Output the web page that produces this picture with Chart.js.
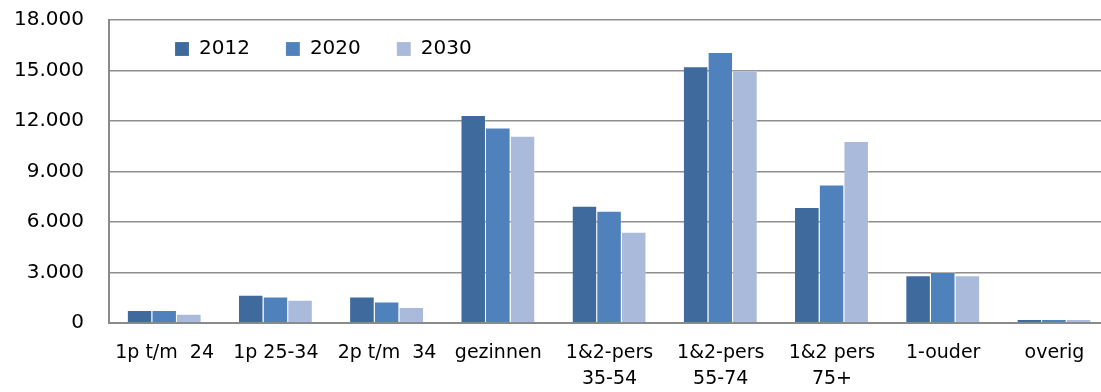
<!DOCTYPE html>
<html>
<head>
<meta charset="utf-8">
<script src="https://cdn.jsdelivr.net/npm/chart.js@4/dist/chart.umd.min.js"></script>
<style>
  html, body { margin: 0; padding: 0; background: #ffffff; }
  #wrap { width: 1101px; height: 392px; position: relative; }
</style>
</head>
<body>
<div id="wrap"><canvas id="chart"></canvas></div>
<script>
// Huishoudtypen (categorieën op de x-as)
const categories = [
  '1p t/m  24',
  '1p 25-34',
  '2p t/m  34',
  'gezinnen',
  ['1&2-pers', '35-54'],
  ['1&2-pers', '55-74'],
  ['1&2 pers', '75+'],
  '1-ouder',
  'overig'
];

// Aantal huishoudens per jaar
const values2012 = [770, 1680, 1580, 12360, 6970, 15250, 6890, 2830, 240];
const values2020 = [770, 1580, 1270, 11620, 6670, 16100, 8230, 3030, 240];
const values2030 = [550, 1380, 950, 11130, 5420, 15000, 10810, 2830, 240];

const seriesLabels = ['2012', '2020', '2030'];

// Y-as: 0 t/m 18.000 in stappen van 3.000
const yMin = 0;
const yMax = 18000;
const yStep = 3000;

const fontFamily = '"DejaVu Sans", Verdana, sans-serif';

const fmt = new Intl.NumberFormat('nl-NL');

// How far the plot area runs past the right edge of the canvas
const plotOverhang = 9;

// The legend is laid out as a top legend but takes no height,
// then placed over the upper-left part of the plot area.
// The plot area is also stretched a little past the right edge.
const layoutTweaks = {
  id: 'layoutTweaks',
  beforeLayout(chart) {
    const lg = chart.legend;
    if (lg && !lg._zeroHeight) {
      const origFit = lg.fit.bind(lg);
      lg.fit = function () { origFit(); this.height = 0; };
      lg._zeroHeight = true;
    }
  },
  afterLayout(chart) {
    const lg = chart.legend;
    if (lg) {
      lg.left = 139;
      lg.top = 3;
      lg.right = chart.width;
      lg.bottom = 80;
      lg.width = lg.right - lg.left;
      lg.height = lg.bottom - lg.top;
    }
    const area = chart.chartArea;
    area.right += plotOverhang;
    area.width += plotOverhang;
    const xs = chart.scales.x;
    xs.right += plotOverhang;
    xs.width += plotOverhang;
    xs.configure();
  }
};

const barEdge = 'rgba(255,255,255,0.3)';

new Chart(document.getElementById('chart'), {
  type: 'bar',
  data: {
    labels: categories,
    datasets: [
      { label: seriesLabels[0], data: values2012, backgroundColor: '#3f6a9d', borderColor: barEdge, borderWidth: { top: 1, right: 1 } },
      { label: seriesLabels[1], data: values2020, backgroundColor: '#4f81bd', borderColor: barEdge, borderWidth: { top: 1, right: 1 } },
      { label: seriesLabels[2], data: values2030, backgroundColor: '#aabada', borderColor: barEdge, borderWidth: { top: 1, right: 1 } }
    ]
  },
  options: {
    responsive: true,
    maintainAspectRatio: false,
    animation: false,
    devicePixelRatio: 1,
    layout: { padding: { top: 20, left: 0, right: 0, bottom: 0 } },
    datasets: {
      bar: { categoryPercentage: 0.665, barPercentage: 1.0 }
    },
    plugins: {
      legend: {
        position: 'top',
        align: 'start',
        labels: {
          boxWidth: 14,
          boxHeight: 14,
          padding: 36,
          color: '#000000',
          font: { family: fontFamily, size: 20 }
        }
      },
      tooltip: { enabled: false }
    },
    scales: {
      x: {
        grid: { display: false, drawTicks: false },
        border: { display: true, color: '#8a8a8a', width: 2 },
        ticks: {
          color: '#000000',
          padding: 17,
          maxRotation: 0,
          autoSkip: false,
          font: { family: fontFamily, size: 19, lineHeight: 1.37 }
        },
        afterFit(scale) { scale.height = 69; }
      },
      y: {
        min: yMin,
        max: yMax,
        ticks: {
          stepSize: yStep,
          color: '#000000',
          padding: 25,
          font: { family: fontFamily, size: 20 },
          callback: (v) => fmt.format(v)
        },
        grid: { color: '#8e8e8e', lineWidth: 1.5, drawTicks: false },
        border: { display: true, color: '#8a8a8a', width: 2 },
        afterFit(scale) {
          scale.width = 109;
          scale.paddingTop = 0;
          scale.paddingBottom = 0;
        }
      }
    }
  },
  plugins: [layoutTweaks]
});
</script>
</body>
</html>
